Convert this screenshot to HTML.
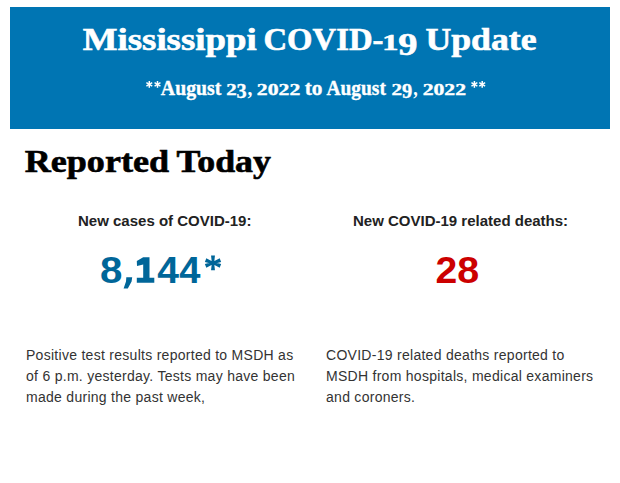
<!DOCTYPE html>
<html>
<head>
<meta charset="utf-8">
<style>
html, body { margin: 0; padding: 0; background: #fff; width: 620px; height: 483px; overflow: hidden; position: relative; }
.abs { position: absolute; white-space: nowrap; line-height: 1; }
#banner { position: absolute; left: 10px; top: 7px; width: 600px; height: 122px; background: #0075b3; }
.sans { font-family: "Liberation Sans", sans-serif; }
#h1 { color: #222; font-size: 15px; font-weight: bold; left: 78px; top: 213px; }
#h2 { color: #222; font-size: 15px; font-weight: bold; left: 353px; top: 213px; }
.para { position: absolute; font-size: 14px; line-height: 21px; color: #333; white-space: nowrap; letter-spacing: 0.28px; }
#p1 { left: 26px; top: 345px; }
#p2 { left: 326px; top: 345px; }
svg { position: absolute; left: 0; top: 0; }
</style>
</head>
<body>
<div id="banner"></div>
<svg width="620" height="483" viewBox="0 0 620 483">
<text transform="translate(82.71,49.70) scale(1.1812,1)" font-family="Liberation Serif" font-weight="bold" font-size="31.19" fill="#ffffff" stroke="#ffffff" stroke-width="0.6">Mississippi</text>
<text transform="translate(263.46,49.70) scale(1.0494,1)" font-family="Liberation Serif" font-weight="bold" font-size="31.19" fill="#ffffff" stroke="#ffffff" stroke-width="0.6">COVID-</text>
<text transform="translate(382.21,49.70) scale(1.4060,1)" font-family="Liberation Serif" font-weight="bold" font-size="23.03" fill="#ffffff" stroke="#ffffff" stroke-width="0.6">1</text>
<text transform="translate(398.24,55.38) scale(1.2067,1)" font-family="Liberation Serif" font-weight="bold" font-size="31.82" fill="#ffffff" stroke="#ffffff" stroke-width="0.6">9</text>
<text transform="translate(425.45,49.70) scale(1.1452,1)" font-family="Liberation Serif" font-weight="bold" font-size="31.19" fill="#ffffff" stroke="#ffffff" stroke-width="0.6">Update</text>
<text transform="translate(160.87,94.83) scale(0.9791,1)" font-family="Liberation Serif" font-weight="bold" font-size="20.23" fill="#ffffff" stroke="#ffffff" stroke-width="0.35">August</text>
<g stroke="#ffffff" stroke-width="1.5"><line x1="149.30" y1="81.00" x2="149.30" y2="87.80"/><line x1="146.36" y1="82.70" x2="152.24" y2="86.10"/><line x1="152.24" y1="82.70" x2="146.36" y2="86.10"/></g>
<g stroke="#ffffff" stroke-width="1.5"><line x1="157.50" y1="81.00" x2="157.50" y2="87.80"/><line x1="154.56" y1="82.70" x2="160.44" y2="86.10"/><line x1="160.44" y1="82.70" x2="154.56" y2="86.10"/></g>
<text transform="translate(226.29,94.83) scale(1.2966,1)" font-family="Liberation Serif" font-weight="bold" font-size="16.08" fill="#ffffff" stroke="#ffffff" stroke-width="0.35">2</text>
<text transform="translate(236.62,98.21) scale(0.9549,1)" font-family="Liberation Serif" font-weight="bold" font-size="21.19" fill="#ffffff" stroke="#ffffff" stroke-width="0.35">3</text>
<text transform="translate(247.56,94.83) scale(0.9640,1)" font-family="Liberation Serif" font-weight="bold" font-size="20.23" fill="#ffffff">,</text>
<text transform="translate(256.85,94.67) scale(1.3752,1)" font-family="Liberation Serif" font-weight="bold" font-size="15.78" fill="#ffffff" stroke="#ffffff" stroke-width="0.35">2022</text>
<text transform="translate(304.66,94.83) scale(1.0541,1)" font-family="Liberation Serif" font-weight="bold" font-size="20.23" fill="#ffffff" stroke="#ffffff" stroke-width="0.35">to</text>
<text transform="translate(326.47,94.83) scale(0.9614,1)" font-family="Liberation Serif" font-weight="bold" font-size="20.23" fill="#ffffff" stroke="#ffffff" stroke-width="0.35">August</text>
<text transform="translate(391.38,94.83) scale(1.3116,1)" font-family="Liberation Serif" font-weight="bold" font-size="16.08" fill="#ffffff" stroke="#ffffff" stroke-width="0.35">2</text>
<text transform="translate(402.11,98.21) scale(0.9654,1)" font-family="Liberation Serif" font-weight="bold" font-size="21.19" fill="#ffffff" stroke="#ffffff" stroke-width="0.35">9</text>
<text transform="translate(413.17,94.83) scale(0.8899,1)" font-family="Liberation Serif" font-weight="bold" font-size="20.23" fill="#ffffff">,</text>
<text transform="translate(422.65,94.67) scale(1.3752,1)" font-family="Liberation Serif" font-weight="bold" font-size="15.78" fill="#ffffff" stroke="#ffffff" stroke-width="0.35">2022</text>
<g stroke="#ffffff" stroke-width="1.5"><line x1="474.40" y1="81.00" x2="474.40" y2="87.80"/><line x1="471.46" y1="82.70" x2="477.34" y2="86.10"/><line x1="477.34" y1="82.70" x2="471.46" y2="86.10"/></g>
<g stroke="#ffffff" stroke-width="1.5"><line x1="482.20" y1="81.00" x2="482.20" y2="87.80"/><line x1="479.26" y1="82.70" x2="485.14" y2="86.10"/><line x1="485.14" y1="82.70" x2="479.26" y2="86.10"/></g>
<text transform="translate(24.72,171.70) scale(1.1572,1)" font-family="Liberation Serif" font-weight="bold" font-size="31.19" fill="#000000" stroke="#000000" stroke-width="0.6">Reported</text>
<text transform="translate(176.61,171.70) scale(1.1497,1)" font-family="Liberation Serif" font-weight="bold" font-size="31.19" fill="#000000" stroke="#000000" stroke-width="0.6">Today</text>
<text transform="translate(100.09,282.64) scale(1.1068,1)" font-family="Liberation Sans" font-weight="bold" font-size="36.33" fill="#006699">8</text>
<text transform="translate(157.21,283.00) scale(1.0450,1)" font-family="Liberation Sans" font-weight="bold" font-size="37.38" fill="#006699">4</text>
<text transform="translate(179.23,283.00) scale(1.0200,1)" font-family="Liberation Sans" font-weight="bold" font-size="37.38" fill="#006699">4</text>
<text transform="translate(435.43,283.00) scale(1.0428,1)" font-family="Liberation Sans" font-weight="bold" font-size="37.56" fill="#cc0000">2</text>
<text transform="translate(457.22,282.63) scale(1.0637,1)" font-family="Liberation Sans" font-weight="bold" font-size="37.03" fill="#cc0000">8</text>
<path fill="#006699" d="M126.3,277.3 L132.2,277.3 L131.6,281.5 L127.8,288.6 L123.6,288.6 L126,281.5 Z"/>
<path fill="#006699" d="M143.2,257.2 L149.5,257.2 L149.5,277.7 L154.3,277.7 L154.3,282.8 L136.8,282.8 L136.8,277.7 L143.2,277.7 L143.2,264.5 L137,266 L136.8,261 Z"/>
<path fill="#006699" d="M214.15,263.00 L214.95,255.50 L211.05,255.50 L211.85,263.00 Z M211.85,263.00 L211.05,270.30 L214.95,270.30 L214.15,263.00 Z M213.42,261.93 L206.29,258.29 L204.87,261.93 L212.58,264.07 Z M213.42,264.07 L221.13,261.93 L219.71,258.29 L212.58,261.93 Z M212.58,261.93 L204.87,264.07 L206.29,267.71 L213.42,264.07 Z M212.58,264.07 L219.71,267.71 L221.13,264.07 L213.42,261.93 Z"/>
</svg>
<div id="h1" class="abs sans">New cases of COVID-19:</div>
<div id="h2" class="abs sans">New COVID-19 related deaths:</div>
<div id="p1" class="para sans">Positive test results reported to MSDH as<br>of 6 p.m. yesterday. Tests may have been<br>made during the past week,</div>
<div id="p2" class="para sans">COVID-19 related deaths reported to<br>MSDH from hospitals, medical examiners<br>and coroners.</div>
</body>
</html>
